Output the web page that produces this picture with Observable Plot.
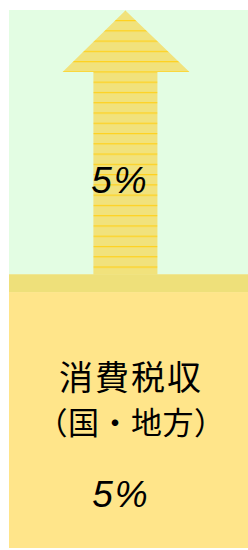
<!DOCTYPE html>
<html>
<head>
<meta charset="utf-8">
<script src="https://cdn.jsdelivr.net/npm/d3@7"></script>
<script src="https://cdn.jsdelivr.net/npm/@observablehq/plot@0.6"></script>
<style>
  html, body { margin: 0; padding: 0; background: #ffffff; }
  #chart svg { display: block; }
</style>
</head>
<body>
<div id="chart"></div>
<script>
// ---- data ----
const rateValues = [5, 5];               // current consumption tax rate, increase
const rateLabels = ["5%", "5%"];         // labels: current (lower block), increase (arrow)
const titleLines = ["消費税収", "（国・地方）"];

// ---- colours ----
const colGreen = "#e3fde3";
const colArrow = "#f1e27c";
const colStripe = "#ffd11c";
const colBand = "#eee07a";
const colLower = "#ffe58a";

// ---- geometry in data units ----
const base = rateValues[0];
const bandTop = base + 0.35;
const yTop = bandTop + rateValues[1] + 0.16;

const blocks = [
  {y1: 0, y2: base, fill: colLower},
  {y1: base, y2: bandTop, fill: colBand},
  {y1: bandTop, y2: yTop, fill: colGreen}
];

const shaftL = 0.351, shaftR = 0.619, headL = 0.222, headR = 0.753, tipX = 0.485, headY = yTop - 1.2;
const arrow = [
  {x: shaftL, y: bandTop},
  {x: shaftL, y: headY},
  {x: headL, y: headY},
  {x: tipX, y: yTop},
  {x: headR, y: headY},
  {x: shaftR, y: headY},
  {x: shaftR, y: bandTop},
  {x: shaftL, y: bandTop}
];

const rateText = [
  {x: 0.462, y: bandTop + 1.82, label: rateLabels[1]},
  {x: 0.466, y: 1.05, label: rateLabels[0]}
];
const titleText = titleLines.map((t, i) => ({x: 0.508, y: 3.30 - i * 0.86, label: t, size: i === 0 ? 34 : 31, ls: i === 0 ? 2 : 1}));

const chart = Plot.plot({
  width: 248,
  height: 550,
  marginLeft: 9,
  marginRight: 0,
  marginTop: 10,
  marginBottom: 2,
  x: {domain: [0, 1], axis: null},
  y: {domain: [0, yTop], axis: null},
  marks: [
    Plot.rect(blocks, {x1: 0, x2: 1, y1: "y1", y2: "y2", fill: d => d.fill}),
    Plot.line(arrow, {x: "x", y: "y", fill: "url(#arrowStripes)", stroke: "none", curve: "linear"}),
    Plot.text(rateText, {x: "x", y: "y", text: "label", fontSize: 37, fontStyle: "italic",
      fontFamily: "Liberation Sans, Arial, sans-serif", fill: "#000", textAnchor: "middle"}),
    Plot.text(titleText.slice(0, 1), {x: "x", y: "y", text: "label", fontSize: 34,
      fontFamily: "Noto Sans CJK JP, sans-serif", fill: "#000", textAnchor: "middle"}),
    Plot.text(titleText.slice(1), {x: "x", y: "y", text: "label", fontSize: 31,
      fontFamily: "Noto Sans CJK JP, sans-serif", fill: "#000", textAnchor: "middle"})
  ]
});

// stripe pattern for the arrow (style only)
const ns = "http://www.w3.org/2000/svg";
const defs = document.createElementNS(ns, "defs");
const pat = document.createElementNS(ns, "pattern");
pat.setAttribute("id", "arrowStripes");
pat.setAttribute("patternUnits", "userSpaceOnUse");
pat.setAttribute("x", "0");
pat.setAttribute("y", "19.5");
pat.setAttribute("width", "248");
pat.setAttribute("height", "10.27");
const bg = document.createElementNS(ns, "rect");
bg.setAttribute("width", "248"); bg.setAttribute("height", "10.27"); bg.setAttribute("fill", colArrow);
const ln = document.createElementNS(ns, "rect");
ln.setAttribute("width", "248"); ln.setAttribute("height", "1.2"); ln.setAttribute("fill", colStripe);
pat.appendChild(bg); pat.appendChild(ln);
defs.appendChild(pat);
chart.insertBefore(defs, chart.firstChild);
chart.querySelectorAll("text").forEach(t => {
  const s = t.textContent;
  t.setAttribute("letter-spacing", s === titleLines[1] ? "0.5" : "2");
});

document.getElementById("chart").appendChild(chart);
</script>
</body>
</html>
